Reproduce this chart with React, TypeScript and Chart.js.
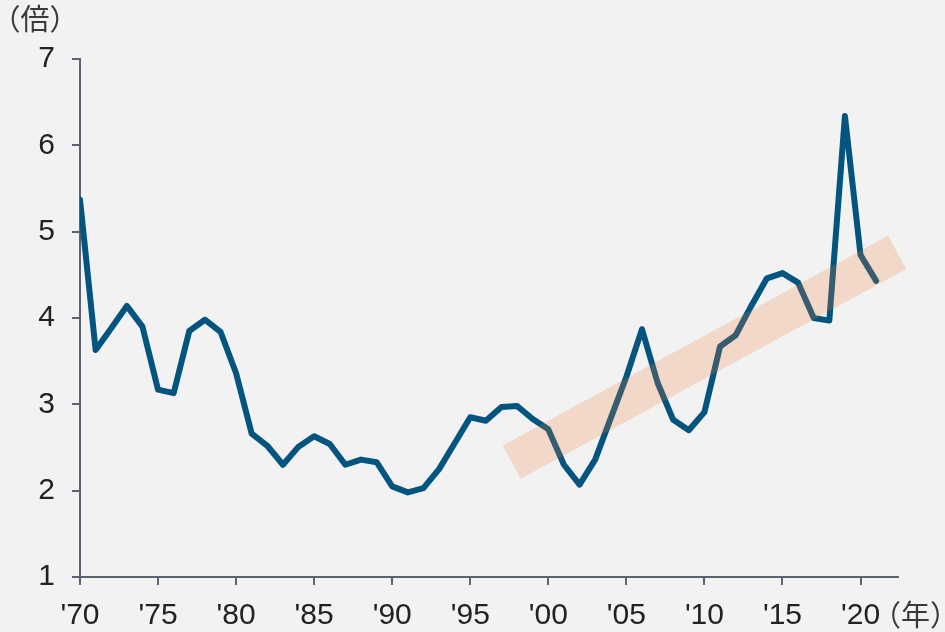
import React, { useEffect, useRef } from "react";
import { Chart, registerables } from "chart.js";

Chart.register(...registerables);

const years: number[] = [
  1970, 1971, 1972, 1973, 1974, 1975, 1976, 1977, 1978, 1979,
  1980, 1981, 1982, 1983, 1984, 1985, 1986, 1987, 1988, 1989,
  1990, 1991, 1992, 1993, 1994, 1995, 1996, 1997, 1998, 1999,
  2000, 2001, 2002, 2003, 2004, 2005, 2006, 2007, 2008, 2009,
  2010, 2011, 2012, 2013, 2014, 2015, 2016, 2017, 2018, 2019,
  2020, 2021,
];
const ratios: number[] = [
  5.37, 3.63, 3.88, 4.14, 3.9, 3.17, 3.13, 3.85, 3.98, 3.84,
  3.36, 2.66, 2.52, 2.3, 2.51, 2.63, 2.54, 2.3, 2.36, 2.33,
  2.05, 1.98, 2.03, 2.25, 2.55, 2.85, 2.81, 2.97, 2.98, 2.83,
  2.71, 2.3, 2.07, 2.36, 2.84, 3.32, 3.87, 3.25, 2.82, 2.7,
  2.91, 3.67, 3.8, 4.14, 4.46, 4.52, 4.41, 4.0, 3.97, 6.34,
  4.73, 4.43,
];
const bandYears: number[] = [1997.66, 2022.34];
const bandValues: number[] = [2.33, 4.76];
const xTickYears: number[] = [1970, 1975, 1980, 1985, 1990, 1995, 2000, 2005, 2010, 2015, 2020];
const yUnitLabel = "（倍）";
const xUnitLabel = "（年）";

const FONT = "'Liberation Sans', Arial, sans-serif";
const CJK = "'Noto Sans CJK JP', 'Liberation Sans', sans-serif";
const AXIS = "#5b6472";
const TEXT = "#222222";

const unitPlugin = {
  id: "unitLabels",
  afterDraw(chart: any) {
    const ctx = chart.ctx;
    ctx.save();
    ctx.fillStyle = "#3a3a3a";
    ctx.font = `29px ${CJK}`;
    ctx.textBaseline = "middle";
    ctx.textAlign = "center";
    ctx.fillText(yUnitLabel, 35, 19);
    ctx.textAlign = "left";
    ctx.fillText(xUnitLabel, 872, 615);
    ctx.restore();
  },
};

export default function App() {
  const ref = useRef<HTMLCanvasElement | null>(null);
  useEffect(() => {
    if (!ref.current) return;
    const chart = new Chart(ref.current, {
      type: "line",
      data: {
        datasets: [
          {
            label: "band",
            data: bandYears.map((x, i) => ({ x, y: bandValues[i] })),
            borderColor: "rgba(237,125,49,0.22)",
            borderWidth: 38,
            borderCapStyle: "butt",
            pointRadius: 0,
            clip: false as any,
            order: 0,
          },
          {
            label: "ratio",
            data: years.map((x, i) => ({ x, y: ratios[i] })),
            borderColor: "#03547e",
            borderWidth: 6,
            borderJoinStyle: "round",
            borderCapStyle: "round",
            pointRadius: 0,
            tension: 0,
            order: 1,
          },
        ],
      },
      options: {
        animation: false,
        responsive: false,
        maintainAspectRatio: false,
        layout: { padding: { top: 59, right: 47, bottom: 0, left: 0 } },
        plugins: { legend: { display: false }, tooltip: { enabled: false } },
        scales: {
          x: {
            type: "linear",
            min: 1970,
            max: 2022.4,
            afterBuildTicks: (s: any) => {
              s.ticks = xTickYears.map((v) => ({ value: v }));
            },
            afterFit: (s: any) => {
              s.height = 55;
            },
            ticks: {
              autoSkip: false,
              maxRotation: 0,
              padding: 13,
              color: TEXT,
              font: { family: FONT, size: 30 },
              callback: (v: any) => "'" + String(v).slice(2),
            },
            grid: { drawOnChartArea: false, drawTicks: true, tickLength: 8, color: AXIS, lineWidth: 2 },
            border: { display: true, color: AXIS, width: 2 },
          },
          y: {
            min: 1,
            max: 7,
            afterFit: (s: any) => {
              s.width = 80;
            },
            ticks: {
              stepSize: 1,
              padding: 17,
              color: TEXT,
              font: { family: FONT, size: 30 },
            },
            grid: { drawOnChartArea: false, drawTicks: true, tickLength: 8, color: AXIS, lineWidth: 2 },
            border: { display: true, color: AXIS, width: 2 },
          },
        },
      },
      plugins: [unitPlugin],
    });
    return () => chart.destroy();
  }, []);
  return (
    <div style={{ position: "fixed", left: 0, top: 0, width: 945, height: 632, background: "#f2f2f2" }}>
      <canvas ref={ref} width={945} height={632} style={{ width: 945, height: 632, display: "block" }} />
    </div>
  );
}
